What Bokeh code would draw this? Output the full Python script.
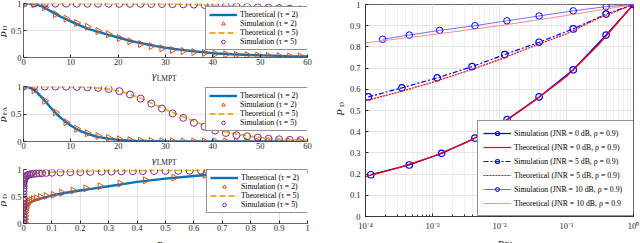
import numpy as np
from bokeh.plotting import figure
from bokeh.models import Legend, LegendItem, FixedTicker, LogTicker, Range1d
from bokeh.core.properties import value
from bokeh.layouts import row, column
from bokeh.embed import file_html
from bokeh.resources import INLINE

# ---------------- data ----------------
gamma_sim = [0, 2.25, 4.5, 6.75, 9, 11.25, 13.5, 15.75, 18, 20.25, 22.5, 24.75, 27,
             29.25, 31.5, 33.75, 36, 38.25, 40.5, 42.75, 45, 47.25, 49.5, 51.75, 54, 56.25, 58.5]

gamma_th_pd2 = [0, 1, 2, 3, 4, 5, 6, 7, 8, 9, 10, 12, 14, 16, 18, 20, 22, 24, 26, 28, 30,
                33, 36, 40, 44, 48, 52, 56, 60]
pd_th_tau2 = [1.0, 1.0, 0.995, 0.975, 0.94, 0.895, 0.845, 0.795, 0.75, 0.71, 0.67, 0.59,
              0.52, 0.47, 0.42, 0.37, 0.32, 0.28, 0.245, 0.21, 0.18, 0.145, 0.115, 0.08,
              0.06, 0.045, 0.035, 0.025, 0.02]
pd_sim_tau2 = [1.0, 0.99, 0.93, 0.80, 0.72, 0.64, 0.57, 0.49, 0.43, 0.36, 0.30, 0.25, 0.21,
               0.17, 0.14, 0.12, 0.10, 0.085, 0.07, 0.06, 0.05, 0.045, 0.035, 0.03, 0.025,
               0.02, 0.02]
gamma_th_pd5 = [0, 10, 20, 30, 34, 38, 42, 46, 50, 54, 58, 60]
pd_th_tau5 = [1.0, 0.998, 0.996, 0.993, 0.985, 0.972, 0.957, 0.942, 0.927, 0.912, 0.89, 0.872]
pd_sim_tau5 = [1.0, 1.0, 1.0, 0.998, 0.997, 0.996, 0.996, 0.995, 0.995, 0.994, 0.993, 0.993,
               0.992, 0.99, 0.988, 0.985, 0.98, 0.972, 0.962, 0.955, 0.946, 0.94, 0.931,
               0.925, 0.915, 0.905, 0.89]

gamma_th_pfa2 = [0, 1, 2, 3, 4, 5, 6, 7, 8, 9, 10, 11, 12, 13, 14, 15, 16, 18, 20, 22, 24,
                 26, 30, 35, 40, 50, 60]
pfa_th_tau2 = [1.0, 0.99, 0.95, 0.88, 0.79, 0.69, 0.59, 0.5, 0.42, 0.35, 0.29, 0.235, 0.19,
               0.155, 0.125, 0.1, 0.08, 0.05, 0.03, 0.02, 0.012, 0.008, 0.003, 0.001, 0.0005,
               0.0, 0.0]
pfa_sim_tau2 = [1.0, 0.93, 0.74, 0.53, 0.35, 0.23, 0.15, 0.10, 0.065, 0.04, 0.025, 0.015,
                0.01, 0.006, 0.004, 0.002, 0.001, 0.001, 0.0, 0.0, 0.0, 0.0, 0.0, 0.0, 0.0,
                0.0, 0.0]
gamma_th_pfa5 = [0, 5, 10, 12, 14, 16, 18, 20, 22, 24, 26, 28, 30, 32, 34, 36, 38, 40, 42, 44,
                 46, 48, 50, 52, 54, 56, 58, 60]
pfa_th_tau5 = [1.0, 1.0, 0.997, 0.993, 0.985, 0.97, 0.95, 0.92, 0.87, 0.81, 0.74, 0.66, 0.58,
               0.51, 0.44, 0.37, 0.3, 0.24, 0.19, 0.15, 0.12, 0.095, 0.075, 0.055, 0.04, 0.03,
               0.025, 0.02]
pfa_sim_tau5 = [1.0, 1.0, 1.0, 1.0, 0.997, 0.993, 0.985, 0.975, 0.955, 0.915, 0.855, 0.78,
                0.69, 0.6, 0.51, 0.43, 0.34, 0.27, 0.2, 0.155, 0.115, 0.095, 0.07, 0.05, 0.04,
                0.03, 0.025]

roc_th2_pfa = [0, 0.0005, 0.002, 0.005, 0.01, 0.02, 0.04, 0.06, 0.08, 0.1, 0.15, 0.2, 0.25,
               0.3, 0.35, 0.4, 0.5, 0.6, 0.7, 0.8, 0.9, 1.0]
roc_th2_pd = [0, 0.15, 0.22, 0.28, 0.33, 0.38, 0.43, 0.46, 0.49, 0.52, 0.57, 0.61, 0.65, 0.69,
              0.73, 0.77, 0.83, 0.88, 0.92, 0.95, 0.98, 1.0]
roc_sim2_pfa = [0.004, 0.004, 0.005, 0.005, 0.006, 0.007, 0.009, 0.012, 0.016, 0.021, 0.027,
                0.035, 0.045, 0.06, 0.08, 0.105, 0.135, 0.175, 0.22, 0.27, 0.34, 0.43, 0.53,
                0.64, 0.76, 0.88, 1.0]
roc_sim2_pd = [0.02, 0.08, 0.14, 0.2, 0.25, 0.29, 0.33, 0.36, 0.39, 0.41, 0.43, 0.45, 0.47,
               0.49, 0.51, 0.53, 0.57, 0.61, 0.65, 0.69, 0.74, 0.8, 0.85, 0.9, 0.94, 0.98, 1.0]
roc_th5_pfa = [0, 0.0002, 0.001, 0.003, 0.006, 0.01, 0.02, 0.04, 0.07, 0.1, 0.2, 0.3, 0.5,
               0.7, 1.0]
roc_th5_pd = [0, 0.55, 0.72, 0.8, 0.85, 0.88, 0.905, 0.93, 0.945, 0.952, 0.965, 0.975, 0.985,
              0.993, 1.0]
roc_sim5_pfa = [0, 0, 0, 0, 0, 0, 0, 0, 0, 0, 0, 0, 0, 0, 0.001, 0.002, 0.004, 0.007, 0.01,
                0.015, 0.02, 0.027, 0.035, 0.045, 0.055, 0.065, 0.08, 0.1, 0.13, 0.165, 0.2,
                0.235, 0.275, 0.31, 0.345, 0.385, 0.42, 0.46, 0.5, 0.545, 0.585, 0.625, 0.665,
                0.705, 0.745, 0.785, 0.82, 0.855, 0.89, 0.92, 0.945, 0.965, 0.98, 0.99, 1.0]
roc_sim5_pd = [0.0, 0.06, 0.12, 0.18, 0.24, 0.3, 0.36, 0.42, 0.48, 0.54, 0.6, 0.65, 0.7, 0.74,
               0.78, 0.81, 0.84, 0.86, 0.88, 0.895, 0.905, 0.915, 0.92, 0.925, 0.93, 0.933,
               0.937, 0.94, 0.945, 0.95, 0.953, 0.956, 0.96, 0.962, 0.965, 0.967, 0.97, 0.972,
               0.974, 0.976, 0.978, 0.98, 0.982, 0.984, 0.986, 0.988, 0.99, 0.992, 0.994,
               0.995, 0.996, 0.997, 0.998, 0.999, 1.0]

r_sim0_pfa = [1.2e-4, 4.5e-4, 1.37e-3, 4.3e-3, 1.3e-2, 3.9e-2, 0.126, 0.39, 1.0]
r_sim0_pd = [0.197, 0.243, 0.298, 0.37, 0.457, 0.564, 0.692, 0.856, 1.0]
r_th0_pfa = [1e-4, 3e-4, 1e-3, 3e-3, 1e-2, 3e-2, 0.1, 0.3, 1.0]
r_th0_pd = [0.188, 0.228, 0.283, 0.345, 0.43, 0.535, 0.66, 0.81, 1.0]
r_sim5_pfa = [1.1e-4, 3.5e-4, 1.18e-3, 3.9e-3, 1.2e-2, 3.9e-2, 0.126, 0.39, 1.0]
r_sim5_pd = [0.564, 0.607, 0.654, 0.707, 0.764, 0.822, 0.885, 0.955, 1.0]
r_th5_pfa = [1e-4, 3e-4, 1e-3, 3e-3, 1e-2, 3e-2, 0.1, 0.3, 1.0]
r_th5_pd = [0.547, 0.585, 0.633, 0.682, 0.74, 0.8, 0.862, 0.935, 1.0]
r_sim10_pfa = [1.8e-4, 4.5e-4, 1.28e-3, 4.3e-3, 1.29e-2, 3.9e-2, 0.126, 0.39, 1.0]
r_sim10_pd = [0.836, 0.856, 0.878, 0.90, 0.923, 0.946, 0.97, 0.99, 1.0]
r_th10_pfa = [1e-4, 1e-3, 1e-2, 1e-1, 1.0]
r_th10_pd = [0.819, 0.858, 0.9, 0.948, 1.0]

left_labels = ["Theoretical (τ = 2)", "Simulation (τ = 2)", "Theoretical (τ = 5)", "Simulation (τ = 5)"]
right_labels = ["Simulation (JNR = 0 dB, ρ = 0.9)", "Theoretical (JNR = 0 dB, ρ = 0.9)",
                "Simulation (JNR = 5 dB, ρ = 0.9)", "Theoretical (JNR = 5 dB, ρ = 0.9)",
                "Simulation (JNR = 10 dB, ρ = 0.9)", "Theoretical (JNR = 10 dB, ρ = 0.9"]

gamma_ticks = [0, 10, 20, 30, 40, 50, 60]
unit_ticks = [0, 0.5, 1]
pfa_lin_ticks = [0, 0.1, 0.2, 0.3, 0.4, 0.5, 0.6, 0.7, 0.8, 0.9, 1]
pd_ticks = [0, 0.1, 0.2, 0.3, 0.4, 0.5, 0.6, 0.7, 0.8, 0.9, 1]
log_ticks = [1e-4, 1e-3, 1e-2, 1e-1, 1]
log_tick_labels = ["10⁻⁴", "10⁻³", "10⁻²", "10⁻¹", "10⁰"]

# ---------------- style ----------------
SERIF = "Liberation Serif"
AX = "#262626"
GRID = "#e4e4e4"
MINOR = "#f0f0f0"
C_BLUE = "#0072BD"
C_ORANGE = "#D95319"
C_YELLOW = "#EDB120"
C_PURPLE = "#7E2F8E"
TICK_FS = "8.5px"


def fmt(v):
    return "%g" % v


def base_axes(p, xticks, yticks, xlabels=None):
    for ax in (p.xaxis[0], p.yaxis[0]):
        ax.axis_line_color = AX
        ax.axis_line_width = 0.7
        ax.major_tick_line_color = AX
        ax.major_tick_in = 3
        ax.major_tick_out = 0
        ax.minor_tick_in = 0
        ax.minor_tick_out = 0
        ax.major_label_text_font = SERIF
        ax.major_label_text_font_size = TICK_FS
        ax.major_label_text_color = AX
        ax.axis_label = None
    p.yaxis[0].ticker = FixedTicker(ticks=yticks)
    p.yaxis[0].major_label_overrides = {t: fmt(t) for t in yticks}
    p.yaxis[0].major_label_standoff = 2
    p.xaxis[0].ticker = FixedTicker(ticks=xticks)
    p.xaxis[0].major_label_standoff = 1
    if xlabels is None:
        p.xaxis[0].major_label_overrides = {t: fmt(t) for t in xticks}
    else:
        p.xaxis[0].major_label_overrides = dict(zip(xticks, xlabels))
    p.xgrid.ticker = FixedTicker(ticks=xticks)
    p.ygrid.ticker = FixedTicker(ticks=yticks)
    p.xgrid.grid_line_color = GRID
    p.ygrid.grid_line_color = GRID
    p.background_fill_color = "white"
    p.border_fill_color = "white"


def strip(w, h):
    # small text-only figure: its frame is the whole canvas, y grows downward
    s = figure(width=w, height=h, x_range=Range1d(0, w), y_range=Range1d(h, 0),
               output_backend="svg", toolbar_location=None, title=None,
               x_axis_location=None, y_axis_location=None,
               min_border_left=0, min_border_right=0, min_border_top=0, min_border_bottom=0,
               outline_line_color=None, background_fill_color="white",
               border_fill_color="white")
    s.xgrid.visible = False
    s.ygrid.visible = False
    return s


def txt(s, x, y, text, size, angle=0.0, align="center", baseline="middle", style="normal"):
    s.text(x=[x], y=[y], text=[text], text_font=value(SERIF), text_font_size=value(size),
           text_font_style=style, angle=angle, text_align=align, text_baseline=baseline,
           text_color=AX)


def ylab(s, xc, y_main, y_sub, main, sub):
    txt(s, xc, y_main, main, "10.5px", angle=np.pi / 2, style="italic")
    txt(s, xc + 1.2, y_sub, sub, "7px", angle=np.pi / 2)


def xlab(s, xr, base_main, base_sub, main, sub):
    txt(s, xr, base_main, main, "11px", align="right", baseline="alphabetic", style="italic")
    txt(s, xr + 0.5, base_sub, sub, "7.5px", align="left", baseline="alphabetic")


def left_legend(p, items, loc):
    lg = Legend(items=items, location=loc, label_text_font=SERIF, label_text_font_size="7.8px",
                label_text_color="black", glyph_width=28, glyph_height=9, label_height=9,
                label_width=67, label_standoff=3, spacing=0, padding=3, margin=0,
                border_line_color=AX, border_line_width=0.6, background_fill_alpha=1.0)
    p.add_layout(lg)


def left_fig(h, top, bottom, xr):
    return figure(width=321, height=h, x_range=xr, y_range=Range1d(0, 1),
                  output_backend="svg", toolbar_location=None,
                  min_border_left=14, min_border_right=21,
                  min_border_top=top, min_border_bottom=bottom,
                  outline_line_color=None)


def curves(p, xt2, yt2, xs2, ys2, xt5, yt5, xs5, ys5, leg_loc):
    r1 = p.line(xt2, yt2, line_color=C_BLUE, line_width=2.4)
    r2 = p.scatter(xs2, ys2, marker="triangle", angle=-90, angle_units="deg", size=7,
                   fill_color=None, line_color=C_ORANGE, line_width=1.0)
    r3 = p.line(xt5, yt5, line_color=C_YELLOW, line_width=1.8, line_dash="6 3")
    r4 = p.scatter(xs5, ys5, marker="circle", size=7, fill_color=None,
                   line_color=C_PURPLE, line_width=1.0)
    items = [LegendItem(label=l, renderers=[r]) for l, r in zip(left_labels, [r1, r2, r3, r4])]
    left_legend(p, items, leg_loc)


# ---- left column : x 7..328 ; panel frames x 21..307
p1 = left_fig(68, 3, 11, Range1d(0, 60))           # frame y 3..57
base_axes(p1, gamma_ticks, unit_ticks)
curves(p1, gamma_th_pd2, pd_th_tau2, gamma_sim, pd_sim_tau2,
       gamma_th_pd5, pd_th_tau5, gamma_sim, pd_sim_tau5, (182, 7))
xs1 = strip(321, 13)                                 # y 68..81
xlab(xs1, 150, 6.5, 9.5, "γ", "LMPT")

p2 = left_fig(71, 5, 11, Range1d(0, 60))           # y 81..152, frame 86..141
base_axes(p2, gamma_ticks, unit_ticks)
curves(p2, gamma_th_pfa2, pfa_th_tau2, gamma_sim, pfa_sim_tau2,
       gamma_th_pfa5, pfa_th_tau5, gamma_sim, pfa_sim_tau5, (182, 10))
xs2 = strip(321, 13)                                 # y 152..165
xlab(xs2, 150, 7, 10, "γ", "LMPT")

p3 = left_fig(69, 4, 11, Range1d(0, 1))            # y 165..234, frame 169..223
base_axes(p3, pfa_lin_ticks, unit_ticks)
curves(p3, roc_th2_pfa, roc_th2_pd, roc_sim2_pfa, roc_sim2_pd,
       roc_th5_pfa, roc_th5_pd, roc_sim5_pfa, roc_sim5_pd, (183, 10))
xs3 = strip(321, 9)                                  # y 234..243
xlab(xs3, 158, 7, 9, "P", "FA")

ys_left = strip(7, 243)                              # x 0..7
ylab(ys_left, 3.6, 34, 27.5, "P", "D")
ylab(ys_left, 3.6, 119, 110.5, "P", "FA")
ylab(ys_left, 3.6, 203.5, 196, "P", "D")

# ---- right panel : fig x 346..640, frame x 363..633, y 4..217
p4 = figure(width=294, height=233, x_axis_type="log", x_range=Range1d(1e-4, 1),
            y_range=Range1d(0, 1), output_backend="svg", toolbar_location=None,
            min_border_left=17, min_border_right=7, min_border_top=4, min_border_bottom=16,
            outline_line_color=AX, outline_line_width=0.7)
base_axes(p4, log_ticks, pd_ticks, log_tick_labels)
p4.xaxis[0].ticker = LogTicker(num_minor_ticks=10)
p4.xaxis[0].minor_tick_in = 2
p4.xaxis[0].minor_tick_line_color = AX
p4.xaxis[0].major_label_standoff = 4
p4.yaxis[0].major_label_standoff = 5
p4.xgrid.ticker = LogTicker(num_minor_ticks=10)
p4.xgrid.minor_grid_line_color = MINOR

BLUE = "#0000FF"
RED = "#FF0000"
LBLUE = "#4D4DFF"
LRED = "#FF6F6F"
s0l = p4.line(r_sim0_pfa, r_sim0_pd, line_color=BLUE, line_width=1.3)
s0m = p4.scatter(r_sim0_pfa, r_sim0_pd, marker="circle", size=6.5, fill_color=None,
                 line_color=BLUE, line_width=1.2)
t0 = p4.line(r_th0_pfa, r_th0_pd, line_color=RED, line_width=1.2)
s5l = p4.line(r_sim5_pfa, r_sim5_pd, line_color=BLUE, line_width=1.2, line_dash="5 2 2 2")
s5m = p4.scatter(r_sim5_pfa, r_sim5_pd, marker="circle", size=6.5, fill_color=None,
                 line_color=BLUE, line_width=1.2)
t5 = p4.line(r_th5_pfa, r_th5_pd, line_color=RED, line_width=1.2, line_dash="2 1")
s10l = p4.line(r_sim10_pfa, r_sim10_pd, line_color=LBLUE, line_width=0.8)
s10m = p4.scatter(r_sim10_pfa, r_sim10_pd, marker="circle", size=6.5, fill_color=None,
                  line_color=BLUE, line_width=1.0)
t10 = p4.line(r_th10_pfa, r_th10_pd, line_color=LRED, line_width=0.8)

ritems = [LegendItem(label=right_labels[0], renderers=[s0l, s0m]),
          LegendItem(label=right_labels[1], renderers=[t0]),
          LegendItem(label=right_labels[2], renderers=[s5l, s5m]),
          LegendItem(label=right_labels[3], renderers=[t5]),
          LegendItem(label=right_labels[4], renderers=[s10l, s10m]),
          LegendItem(label=right_labels[5], renderers=[t10])]
rl = Legend(items=ritems, location=(112, 0), label_text_font=SERIF, label_text_font_size="7.8px",
            label_text_color="black", glyph_width=28, glyph_height=10, label_height=14,
            label_width=117, label_standoff=3, spacing=0, padding=5, margin=0,
            border_line_color=AX, border_line_width=0.7, background_fill_alpha=1.0)
p4.add_layout(rl)

xs4 = strip(294, 10)                                 # y 233..243, x 346..640
xlab(xs4, 152, 8, 10, "P", "FA")
ys_right = strip(18, 243)                            # x 328..346
ylab(ys_right, 12, 112, 104, "P", "D")

left_col = column(p1, xs1, p2, xs2, p3, xs3, spacing=0)
right_col = column(p4, xs4, spacing=0)
layout = row(ys_left, left_col, ys_right, right_col, spacing=0)
open("out.html", "w").write(file_html(layout, INLINE))
